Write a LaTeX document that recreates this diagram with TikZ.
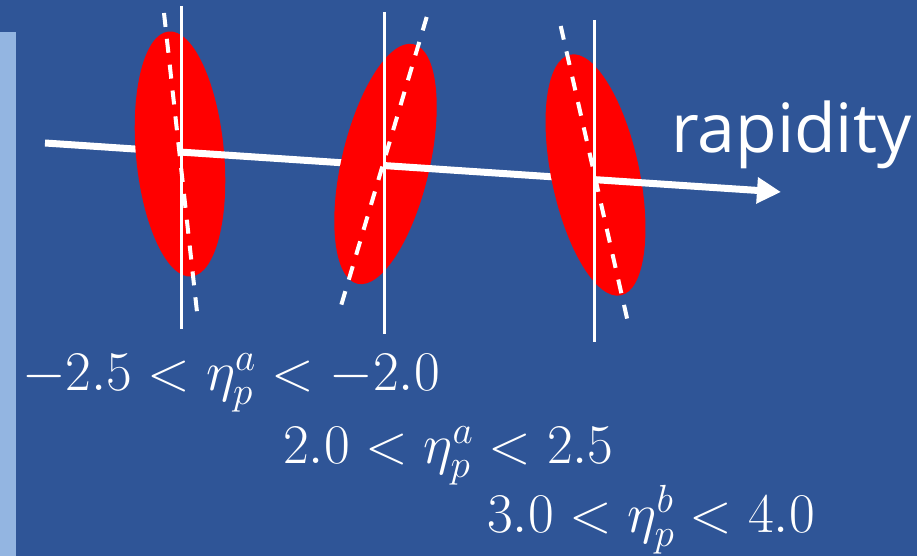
\RequirePackage{fix-cm}
\documentclass[tikz,border=0pt]{standalone}
\usepackage{fontspec}
\newfontfamily\rapfont{Open Sans}
\usetikzlibrary{arrows.meta}
\definecolor{bgblue}{HTML}{2F5597}
\definecolor{stripblue}{HTML}{93B5E1}
\definecolor{blobred}{HTML}{FF0000}
\tikzset{
  axisline/.style={white, line width=7pt},
  vline/.style={white, line width=3pt},
  tiltline/.style={white, line width=4pt, dash pattern=on 14pt off 12pt},
  blob/.style={fill=blobred, draw=none},
  lbl/.style={text=white, inner sep=0pt, anchor=base west, font=\fontsize{56}{62}\selectfont}
}
\begin{document}
\begin{tikzpicture}[x=1pt,y=1pt]
\fill[bgblue] (0,0) rectangle (917,556);
\useasboundingbox (0,0) rectangle (917,556);
\fill[stripblue] (0,0) rectangle (16,524);

% axis coordinates
\coordinate (A0) at (45,413);
\coordinate (C1) at (181,403.9);
\coordinate (C2) at (384.7,390.4);
\coordinate (C3) at (594,376.4);
\coordinate (T) at (781,364);

% vertical lines and tilted lines end points
\coordinate (V1t) at (181,550); \coordinate (V1b) at (181,227);
\coordinate (V2t) at (384.7,544); \coordinate (V2b) at (384.7,222);
\coordinate (V3t) at (594,536); \coordinate (V3b) at (594,214);
\coordinate (D1t) at (164,543); \coordinate (D1b) at (198,235);
\coordinate (D2t) at (426.7,539); \coordinate (D2b) at (338,240);
\coordinate (D3t) at (560.7,530); \coordinate (D3b) at (629,229);

% first group
\draw[axisline] (A0) -- (C1);
\fill[blob, rotate around={5.3:(180,402)}] (180,402) ellipse [x radius=44, y radius=123];
\draw[vline] (V1t) -- (V1b);
\draw[tiltline] (D1t) -- (D1b);

% second group
\draw[axisline] (C1) -- (C2);
\fill[blob, rotate around={-13.2:(385.5,392)}] (385.5,392) ellipse [x radius=44, y radius=123];
\draw[vline] (V2t) -- (V2b);
\draw[tiltline] (D2t) -- (D2b);

% third group
\draw[axisline] (C2) -- (C3);
\fill[blob, rotate around={11.9:(595.5,381)}] (595.5,381) ellipse [x radius=44, y radius=123];
\draw[vline] (V3t) -- (V3b);
\draw[tiltline] (D3t) -- (D3b);

\draw[axisline, -{Triangle[length=24pt,width=25pt]}] (C3) -- (T);

\node[text=white, inner sep=0pt, anchor=base west, font=\rapfont\fontsize{68}{74}\selectfont] (rap) at (671,403) {rapidity};

\node[lbl] (L1) at (22,165) {$-2.5<\eta_p^a<-2.0$};
\node[lbl] (L2) at (283,92) {$2.0<\eta_p^a<2.5$};
\node[lbl] (L3) at (487,23) {$3.0<\eta_p^b<4.0$};
\end{tikzpicture}
\end{document}
